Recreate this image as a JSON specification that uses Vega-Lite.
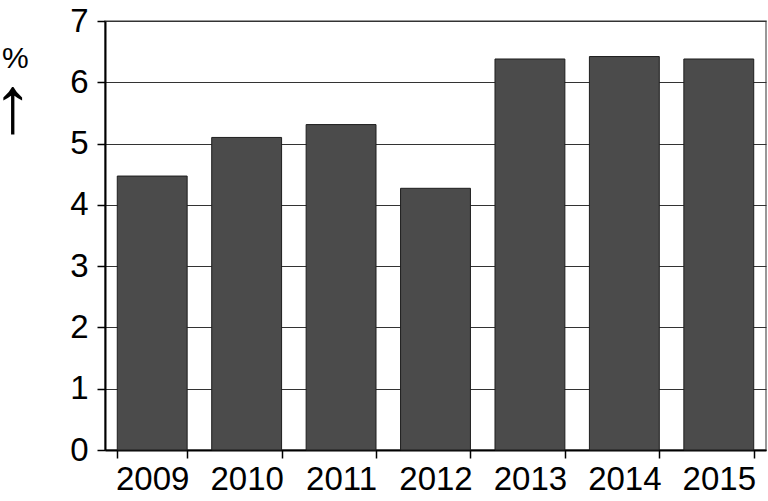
{
  "$schema": "https://vega.github.io/schema/vega-lite/v6.json",
  "width": 661,
  "height": 429,
  "autosize": {"type": "none"},
  "padding": {"left": 105, "top": 21, "right": 2, "bottom": 51},
  "background": "white",
  "config": {
    "font": "Liberation Sans",
    "view": {"stroke": "#777777", "strokeWidth": 1.5}
  },
  "title": {
    "text": "%",
    "anchor": "start",
    "frame": "group",
    "orient": "top",
    "baseline": "alphabetic",
    "fontSize": 30,
    "fontWeight": "normal",
    "color": "#000000",
    "dx": -103,
    "dy": 97
  },
  "data": {
    "values": [
      {"year": "2009", "value": 4.47},
      {"year": "2010", "value": 5.10},
      {"year": "2011", "value": 5.31},
      {"year": "2012", "value": 4.27},
      {"year": "2013", "value": 6.38},
      {"year": "2014", "value": 6.42},
      {"year": "2015", "value": 6.38}
    ]
  },
  "mark": {"type": "bar", "fill": "#4b4b4b", "stroke": "#1e1e1e", "strokeWidth": 1},
  "encoding": {
    "x": {
      "field": "year",
      "type": "ordinal",
      "scale": {"paddingInner": 0.26, "paddingOuter": 0.13},
      "axis": {
        "title": null,
        "labelAngle": 0,
        "labelFontSize": 33,
        "labelColor": "#000000",
        "labelPadding": 5,
        "tickBand": "extent",
        "tickSize": 8,
        "tickColor": "#000000",
        "tickWidth": 1.5,
        "domainColor": "#000000",
        "domainWidth": 2,
        "grid": false
      }
    },
    "y": {
      "field": "value",
      "type": "quantitative",
      "scale": {"domain": [0, 7], "nice": false},
      "axis": {
        "values": [0, 1, 2, 3, 4, 5, 6, 7],
        "format": "d",
        "title": "↑",
        "titleAngle": 0,
        "titleX": -93,
        "titleY": 86,
        "titleAlign": "center",
        "titleBaseline": "middle",
        "titleFontSize": 80,
        "titleFontWeight": "normal",
        "titleColor": "#000000",
        "labelFontSize": 33,
        "labelColor": "#000000",
        "labelPadding": 9,
        "tickSize": 8,
        "tickColor": "#000000",
        "tickWidth": 1.5,
        "domainColor": "#000000",
        "domainWidth": 2,
        "grid": true,
        "gridColor": "#333333",
        "gridWidth": 1.2
      }
    }
  }
}
